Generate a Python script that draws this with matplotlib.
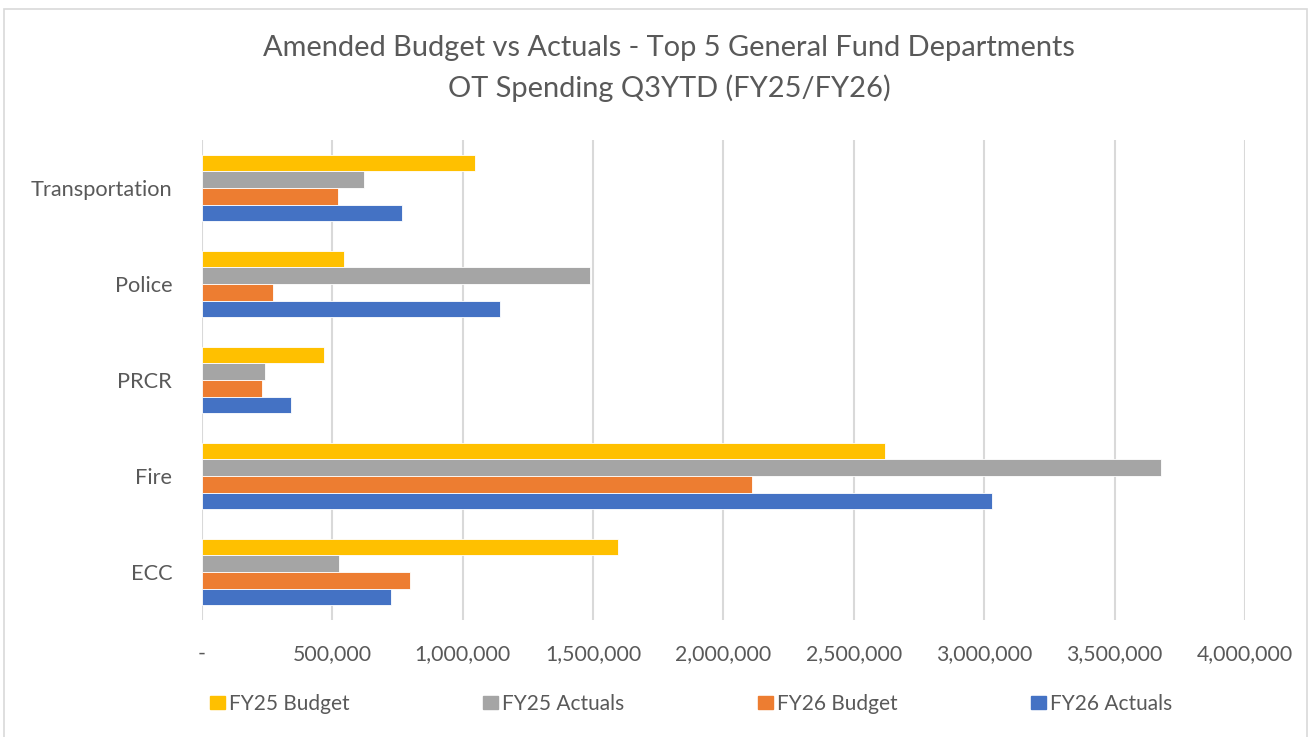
import matplotlib.pyplot as plt
import matplotlib.patches as mpatches
import numpy as np
from matplotlib.ticker import FuncFormatter

# departments, bottom to top as drawn
departments = ["ECC", "Fire", "PRCR", "Police", "Transportation"]
fy25_budget = [1596000, 2618000, 466000, 544000, 1046000]
fy25_actuals = [524000, 3677000, 241000, 1487000, 622000]
fy26_budget = [797000, 2109000, 231000, 271000, 522000]
fy26_actuals = [725000, 3029000, 342000, 1143000, 766000]

series_names = ["FY25 Budget", "FY25 Actuals", "FY26 Budget", "FY26 Actuals"]
colors = ["#FFC000", "#A5A5A5", "#ED7D31", "#4472C4"]
text_col = "#595959"

plt.rcParams['font.family'] = ['Lato', 'DejaVu Sans']

fig = plt.figure(figsize=(13.1, 7.37), dpi=100)
ax = fig.add_axes([202/1310, 1 - 620/737, (1245 - 202)/1310, 480/737])

y = np.arange(len(departments))
h = 0.172
series = [fy25_budget, fy25_actuals, fy26_budget, fy26_actuals]
for i, (vals, name, c) in enumerate(zip(series, series_names, colors)):
    offset = (1.5 - i) * h
    ax.barh(y + offset, vals, height=h, color=c, label=name, zorder=3,
            edgecolor="white", linewidth=0.6)

ax.set_xlim(0, 4000000)
ax.set_ylim(-0.5, len(departments) - 0.5)
ax.set_xticks(np.arange(0, 4000001, 500000))
ax.xaxis.set_major_formatter(FuncFormatter(lambda v, p: "-" if v == 0 else f"{int(v):,}"))
ax.set_yticks(y)
ax.set_yticklabels(departments)
ax.grid(True, axis="x", color="#D9D9D9", linewidth=1.5, zorder=0)
for s in ax.spines.values():
    s.set_visible(False)
ax.tick_params(axis="both", length=0, colors=text_col)
ax.tick_params(axis="x", pad=17, labelsize=15.3)
ax.tick_params(axis="y", pad=21.5, labelsize=15.7)

fig.text(0.511, 1 - 48/737, "Amended Budget vs Actuals - Top 5 General Fund Departments",
         ha="center", va="center", fontsize=20.9, color=text_col)
fig.text(0.511, 1 - 88/737, "OT Spending Q3YTD (FY25/FY26)",
         ha="center", va="center", fontsize=20.9, color=text_col)

handles = [mpatches.Patch(color=c) for c in colors]
fig.legend(handles, series_names, loc="center left", bbox_to_anchor=(191/1310, 1 - 704/737),
           ncol=4, frameon=False, fontsize=15, labelcolor=text_col,
           handlelength=0.72, handleheight=0.63, handletextpad=0.2, columnspacing=6.4)

fig.patches.append(mpatches.Rectangle((4/1310, -0.01), 1303/1310, 1 - 9/737 + 0.01,
                                      transform=fig.transFigure, fill=False,
                                      edgecolor="#D9D9D9", linewidth=1.2))

fig.savefig("out.png", dpi=100)
